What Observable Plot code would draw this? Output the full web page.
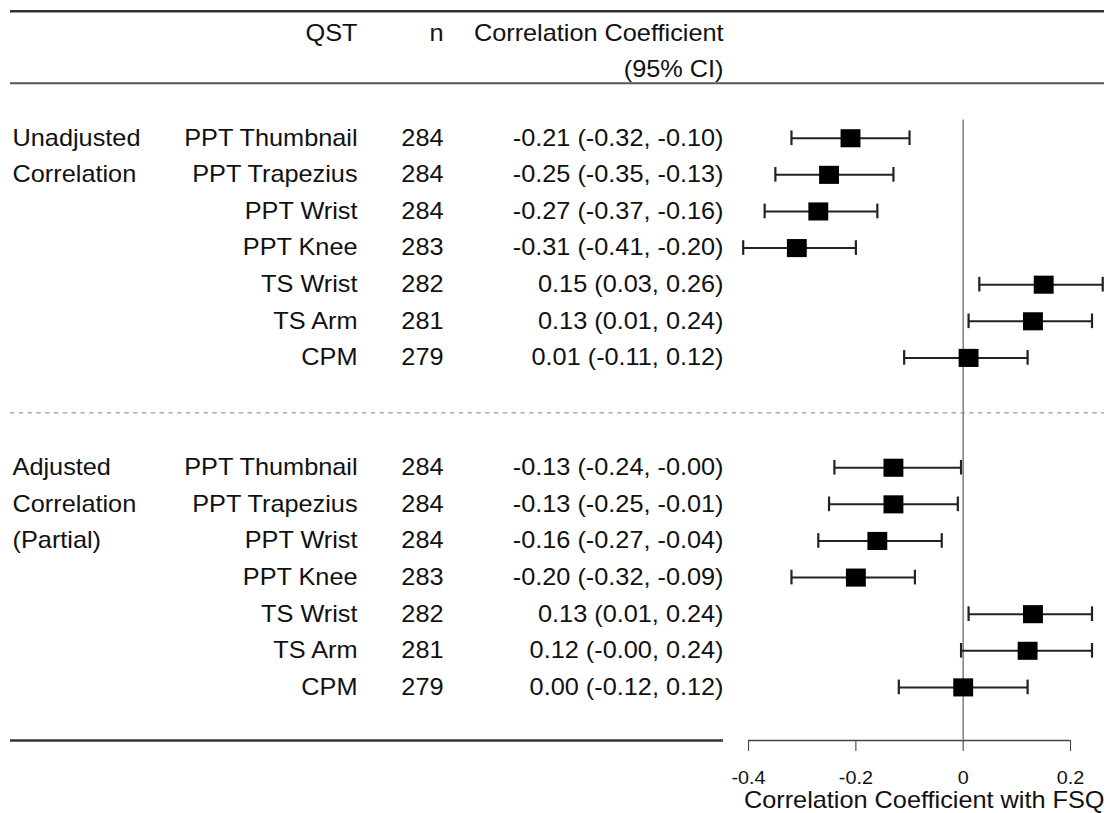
<!DOCTYPE html>
<html><head><meta charset="utf-8">
<script src="https://cdn.jsdelivr.net/npm/d3@7"></script>
<script src="https://cdn.jsdelivr.net/npm/@observablehq/plot@0.6"></script>
<style>
html,body{margin:0;padding:0;background:#fff;}
#chart svg{display:block;transform:scaleX(1.1);transform-origin:0 0;overflow:visible;}
</style></head><body><div id="chart"></div>
<script>
// ---------- data ----------
const qst = ["PPT Thumbnail","PPT Trapezius","PPT Wrist","PPT Knee","TS Wrist","TS Arm","CPM"];
const nUnadj = [284,284,284,283,282,281,279];
const estUnadj = [-0.21,-0.25,-0.27,-0.31,0.15,0.13,0.01];
const loUnadj = [-0.32,-0.35,-0.37,-0.41,0.03,0.01,-0.11];
const hiUnadj = [-0.10,-0.13,-0.16,-0.20,0.26,0.24,0.12];
const nAdj = [284,284,284,283,282,281,279];
const estAdj = [-0.13,-0.13,-0.16,-0.20,0.13,0.12,0.00];
const loAdj = [-0.24,-0.25,-0.27,-0.32,0.01,-0.004,-0.12];
const hiAdj = [-0.004,-0.01,-0.04,-0.09,0.24,0.24,0.12];
const groupUnadj = ["Unadjusted","Correlation"];
const groupAdj = ["Adjusted","Correlation","(Partial)"];
const headerQst = "QST";
const headerN = "n";
const headerCI = ["Correlation Coefficient", "(95% CI)"];
const xTicks = [-0.4,-0.2,0,0.2];
const xLabel = "Correlation Coefficient with FSQ";

// ---------- layout ----------
const S = 1.1;                       // horizontal stretch of the original figure
const W = 1110 / S, H = 813;
const px = p => p / S;               // target pixel -> svg units
const frameL = px(10), frameR = px(1104);
const tickL = px(748), tickR = px(1070);
const k = (tickR - tickL) / (xTicks[xTicks.length-1] - xTicks[0]);
const xDomain = [xTicks[0] - (tickL - frameL) / k, xTicks[xTicks.length-1] + (frameR - tickR) / k];
const xAtPx = p => xTicks[0] + (px(p) - tickL) / k;
const rowTop = -3.47, rowBottom = 16.45, adjOffset = 9;
const head1 = -2.86, head2 = -1.88;
const colGroup = px(12) - frameL, colQst = px(357) - frameL, colN = px(443) - frameL, colCI = px(723) - frameL;
const fmt = v => v.toFixed(2);

const rows = [
  ...qst.map((q, i) => ({row: i, qst: q, n: nUnadj[i], est: estUnadj[i], lo: loUnadj[i], hi: hiUnadj[i]})),
  ...qst.map((q, i) => ({row: adjOffset + i, qst: q, n: nAdj[i], est: estAdj[i], lo: loAdj[i], hi: hiAdj[i]}))
].map(d => ({...d, ci: `${fmt(d.est)} (${fmt(d.lo)}, ${fmt(d.hi)})`}));
const groupRows = [
  ...groupUnadj.map((t, i) => ({row: i, t})),
  ...groupAdj.map((t, i) => ({row: adjOffset + i, t}))
];
const capHalf = 0.2;
const ink = "#111";
const font = "Liberation Sans, Arial, Helvetica, sans-serif";
const txt = (data, opts) => Plot.text(data, {frameAnchor: "left", fontSize: 23, fill: ink, textAnchor: "end", ...opts});

const chart = Plot.plot({
  width: W, height: H,
  marginLeft: frameL, marginRight: W - frameR,
  marginTop: 10.7, marginBottom: H - 740,
  style: {fontFamily: font, fontSize: "23px", color: ink, background: "#fff"},
  x: {domain: xDomain},
  y: {domain: [rowTop, rowBottom], reverse: true, axis: null},
  marks: [
    Plot.ruleY([rowTop], {stroke: "#333", strokeWidth: 2.6}),
    Plot.ruleY([-1.5], {stroke: "#555", strokeWidth: 2}),
    Plot.ruleY([7.5], {stroke: "#999", strokeWidth: 1.2, strokeDasharray: "4,4"}),
    Plot.ruleY([rowBottom], {x1: xDomain[0], x2: xAtPx(723), stroke: "#333", strokeWidth: 2.6}),
    Plot.ruleY([rowBottom], {x1: xTicks[0], x2: xTicks[xTicks.length-1], stroke: "#444", strokeWidth: 1.5}),
    Plot.ruleX([0], {y1: -0.5, y2: rowBottom, stroke: "#888", strokeWidth: 1.5}),
    Plot.ruleY(rows, {y: "row", x1: "lo", x2: "hi", stroke: "#222", strokeWidth: 2}),
    Plot.ruleX(rows, {x: "lo", y1: d => d.row - capHalf, y2: d => d.row + capHalf, stroke: "#222", strokeWidth: 2}),
    Plot.ruleX(rows, {x: "hi", y1: d => d.row - capHalf, y2: d => d.row + capHalf, stroke: "#222", strokeWidth: 2}),
    Plot.dot(rows, {x: "est", y: "row", symbol: "square", r: 10.2, fill: "#000", stroke: null}),
    txt(groupRows, {y: "row", text: "t", dx: colGroup, textAnchor: "start"}),
    txt(rows, {y: "row", text: "qst", dx: colQst}),
    txt(rows, {y: "row", text: d => String(d.n), dx: colN}),
    txt(rows, {y: "row", text: "ci", dx: colCI}),
    txt([headerQst], {y: head1, text: d => d, dx: colQst}),
    txt([headerN], {y: head1, text: d => d, dx: colN}),
    txt(headerCI, {y: (d, i) => i === 0 ? head1 : head2, text: d => d, dx: colCI}),
    Plot.axisX({ticks: xTicks, tickSize: 11, tickPadding: 20, tickFormat: d => String(d), fontSize: 18, stroke: "#444", fill: ink, label: null}),
    Plot.text([xLabel], {y: 18.08, text: d => d, frameAnchor: "right", textAnchor: "end", fontSize: 23, fill: ink})
  ]
});
document.getElementById("chart").append(chart);
</script></body></html>
